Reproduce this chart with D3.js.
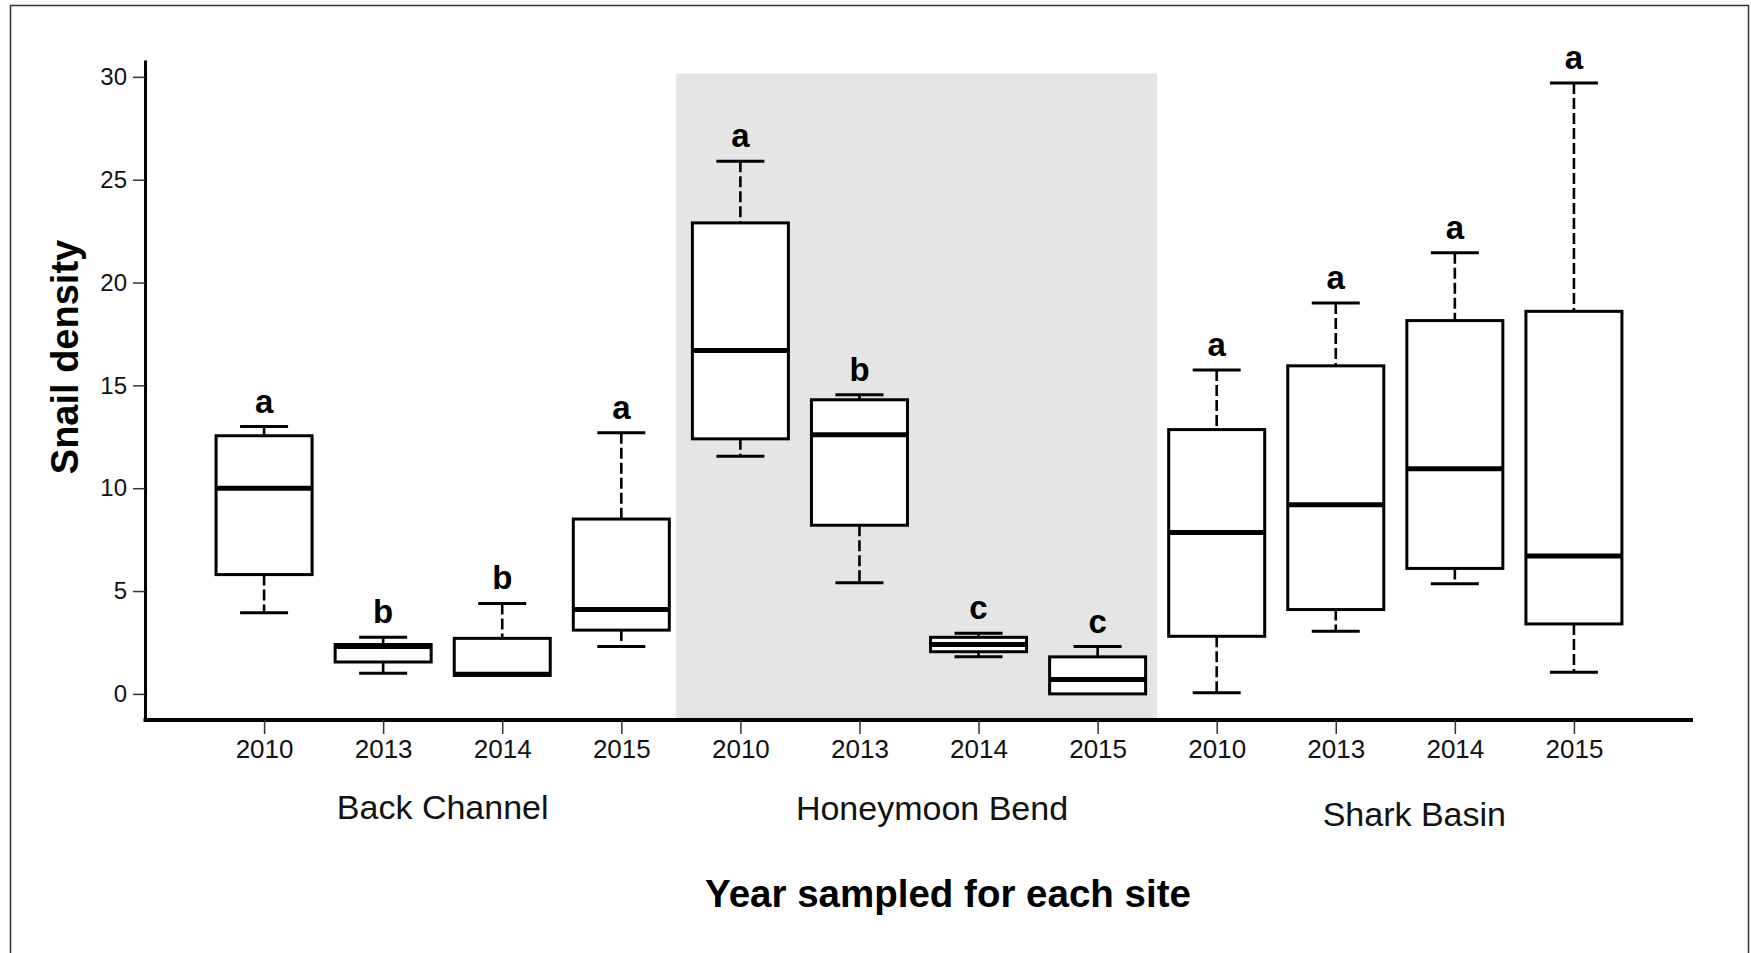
<!DOCTYPE html>
<html>
<head>
<meta charset="utf-8">
<script src="https://cdn.jsdelivr.net/npm/d3@7"></script>
<style>
  html, body { margin: 0; padding: 0; background: #fff; }
  svg { display: block; font-family: Arial, 'Liberation Sans', Helvetica, sans-serif; }
</style>
</head>
<body>
<div id="graph"></div>
<script>
const sites = ['Back Channel', 'Honeymoon Bend', 'Shark Basin'],
      years = ['2010', '2013', '2014', '2015']

// one entry per site/year, in the order of sites x years
const minValues    = [3.95, 1.0, 0.9, 2.3,   11.55, 5.4, 1.8, 0.0,   0.05, 3.05, 5.35, 1.05],
      q1Values     = [5.8, 1.55, 0.9, 3.1,   12.4, 8.2, 2.05, 0.0,   2.8, 4.1, 6.1, 3.4],
      medianValues = [10.0, 2.3, 0.95, 4.1,  16.7, 12.6, 2.4, 0.7,   7.85, 9.2, 10.95, 6.7],
      q3Values     = [12.55, 2.4, 2.7, 8.5,  22.9, 14.3, 2.75, 1.8,  12.85, 15.95, 18.15, 18.6],
      maxValues    = [13.0, 2.75, 4.4, 12.7, 25.9, 14.55, 2.95, 2.3, 15.75, 19.0, 21.45, 29.7],
      groupLetters = ['a', 'b', 'b', 'a',    'a', 'b', 'c', 'c',     'a', 'a', 'a', 'a']

const yTicks = [0, 5, 10, 15, 20, 25, 30],
      shadedSite = 'Honeymoon Bend'

const SIZE = Object.freeze({
        WIDTH: 1751,
        HEIGHT: 953,
        LEFT: 145,
        RIGHT: 1693,
        TOP: 60,
        BOTTOM: 720
      }),
      BOX = Object.freeze({
        HALF: 48,
        CAP: 24
      })

// small nudges so the site names sit where the original put them
const siteLabelNudge = { 'Back Channel': [0, 819], 'Honeymoon Bend': [13, 820], 'Shark Basin': [19, 826] }

const dataset = []
sites.forEach((site, s) => years.forEach((year, y) => {
  const i = s * years.length + y
  dataset.push({
    key: `${site}|${year}`,
    site,
    year,
    min: minValues[i],
    q1: q1Values[i],
    median: medianValues[i],
    q3: q3Values[i],
    max: maxValues[i],
    letter: groupLetters[i]
  })
}))

const buildGraph = () => {
  const xScale = d3.scalePoint()
          .domain(dataset.map(d => d.key))
          .range([SIZE.LEFT, SIZE.RIGHT])
          .padding(1),
        yScale = d3.scaleLinear()
          .domain([-1.27, 30.82])
          .range([SIZE.BOTTOM, SIZE.TOP])

  const svg = d3.select('#graph')
    .append('svg')
    .attr('width', SIZE.WIDTH)
    .attr('height', SIZE.HEIGHT)

  svg.append('rect')
    .attr('x', 10.5)
    .attr('y', 5.5)
    .attr('width', 1738)
    .attr('height', 980)
    .attr('fill', 'none')
    .attr('stroke', '#333')
    .attr('stroke-width', 1.5)

  // shaded band behind the middle site
  const shaded = dataset.filter(d => d.site === shadedSite),
        step = xScale.step(),
        bandLeft = xScale(shaded[0].key) - step / 2 - 5,
        bandRight = xScale(shaded[shaded.length - 1].key) + step / 2
  svg.append('rect')
    .attr('x', bandLeft)
    .attr('y', 73.5)
    .attr('width', bandRight - bandLeft)
    .attr('height', SIZE.BOTTOM - 73.5)
    .attr('fill', '#e5e5e5')

  const boxes = svg.append('g')
    .selectAll('g')
    .data(dataset)
    .enter()
    .append('g')
    .attr('transform', d => `translate(${xScale(d.key)},0)`)

  boxes.append('line')
    .attr('y1', d => yScale(d.max))
    .attr('y2', d => yScale(d.q3))
    .attr('stroke', '#000')
    .attr('stroke-width', 2.6)
    .attr('stroke-dasharray', '11,4')
  boxes.append('line')
    .attr('y1', d => yScale(d.q1))
    .attr('y2', d => yScale(d.min))
    .attr('stroke', '#000')
    .attr('stroke-width', 2.6)
    .attr('stroke-dasharray', '11,4')

  boxes.selectAll('.cap')
    .data(d => d.min < d.q1 ? [d.max, d.min] : [d.max])
    .enter()
    .append('line')
    .attr('class', 'cap')
    .attr('x1', -BOX.CAP)
    .attr('x2', BOX.CAP)
    .attr('y1', v => yScale(v))
    .attr('y2', v => yScale(v))
    .attr('stroke', '#000')
    .attr('stroke-width', 3)

  boxes.append('rect')
    .attr('x', -BOX.HALF)
    .attr('width', BOX.HALF * 2)
    .attr('y', d => yScale(d.q3))
    .attr('height', d => yScale(d.q1) - yScale(d.q3))
    .attr('fill', '#fff')
    .attr('stroke', '#000')
    .attr('stroke-width', 3)

  boxes.append('line')
    .attr('x1', -BOX.HALF)
    .attr('x2', BOX.HALF)
    .attr('y1', d => yScale(d.median))
    .attr('y2', d => yScale(d.median))
    .attr('stroke', '#000')
    .attr('stroke-width', 5)

  boxes.append('text')
    .attr('y', d => yScale(d.max) - 14)
    .attr('text-anchor', 'middle')
    .style('font-size', '33px')
    .style('font-weight', 'bold')
    .attr('fill', '#000')
    .text(d => d.letter)

  const xAxis = d3.axisBottom(xScale)
          .tickSizeInner(14)
          .tickSizeOuter(0)
          .tickPadding(6)
          .tickFormat(k => k.split('|')[1]),
        yAxis = d3.axisLeft(yScale)
          .tickValues(yTicks)
          .tickSizeInner(12)
          .tickSizeOuter(0)
          .tickPadding(6)

  const gx = svg.append('g')
    .attr('transform', `translate(0,${SIZE.BOTTOM})`)
    .call(xAxis)
  gx.select('.domain')
    .attr('stroke', '#000')
    .attr('stroke-width', 4)
    .attr('d', `M${SIZE.LEFT - 1.5},0H${SIZE.RIGHT}`)
  gx.selectAll('.tick line').attr('stroke', '#333').attr('stroke-width', 1.5)
  gx.selectAll('.tick text')
    .style('font-size', '26px')
    .attr('fill', '#111')

  const gy = svg.append('g')
    .attr('transform', `translate(${SIZE.LEFT},0)`)
    .call(yAxis)
  gy.select('.domain').attr('stroke', '#000').attr('stroke-width', 3)
  gy.selectAll('.tick line').attr('stroke', '#333').attr('stroke-width', 1.5)
  gy.selectAll('.tick text')
    .style('font-size', '24px')
    .attr('fill', '#111')

  // site names under the year ticks
  sites.forEach(site => {
    const keys = dataset.filter(d => d.site === site).map(d => xScale(d.key)),
          [dx, baseline] = siteLabelNudge[site]
    svg.append('text')
      .attr('x', d3.mean(keys) + dx)
      .attr('y', baseline)
      .attr('text-anchor', 'middle')
      .style('font-size', '34px')
      .attr('fill', '#111')
      .text(site)
  })

  svg.append('text')
    .attr('x', 948)
    .attr('y', 907)
    .attr('text-anchor', 'middle')
    .style('font-size', '38.5px')
    .style('font-weight', 'bold')
    .attr('fill', '#000')
    .text('Year sampled for each site')

  svg.append('text')
    .attr('transform', 'translate(78,357) rotate(-90)')
    .attr('text-anchor', 'middle')
    .style('font-size', '38px')
    .style('font-weight', 'bold')
    .attr('fill', '#000')
    .text('Snail density')
}

buildGraph()
</script>
</body>
</html>
